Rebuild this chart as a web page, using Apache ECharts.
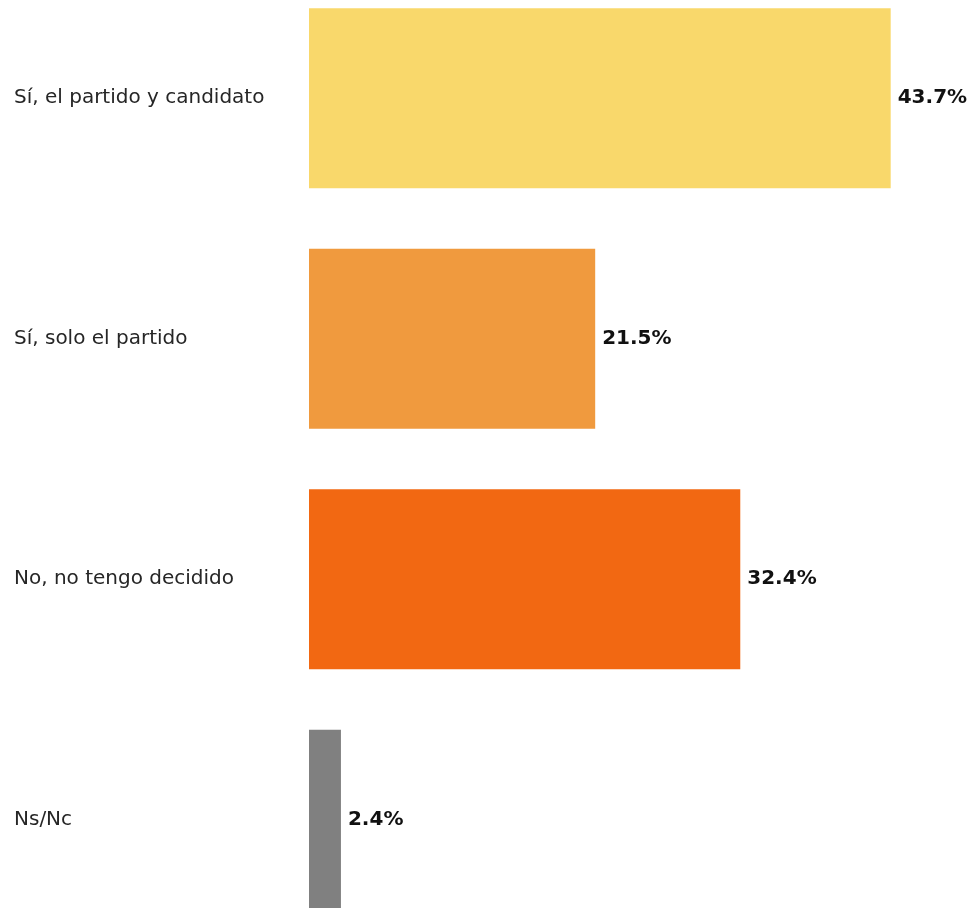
<!DOCTYPE html>
<html>
<head>
<meta charset="utf-8">
<script src="https://cdn.jsdelivr.net/npm/echarts@6/dist/echarts.min.js"></script>
<style>html,body{margin:0;padding:0;background:#fff;overflow:hidden;width:971px;height:908px;}#c{position:absolute;left:0;top:-22px;width:971px;height:962px;}</style>
</head>
<body>
<div id="c"></div>
<script>
var categories = ["Sí, el partido y candidato", "Sí, solo el partido", "No, no tengo decidido", "Ns/Nc"];
var values = [43.7, 21.5, 32.4, 2.4];
var colors = ["#F9D86B", "#F09A3E", "#F26812", "#808080"];

var chart = echarts.init(document.getElementById('c'), null, {renderer: 'canvas'});
chart.setOption({
  animation: false,
  backgroundColor: '#ffffff',
  grid: {left: 309, top: 0, width: 599, height: 962, containLabel: false},
  xAxis: {type: 'value', min: 0, max: 45, show: false},
  yAxis: {
    type: 'category', data: categories, inverse: true,
    axisLine: {show: false}, axisTick: {show: false},
    axisLabel: {align: 'left', margin: 295, fontSize: 20, color: '#262626', padding: [3, 0, 0, 0], fontFamily: '"DejaVu Sans", sans-serif'}
  },
  series: [{
    type: 'bar',
    data: values.map(function (v, i) { return {value: v, itemStyle: {color: colors[i]}}; }),
    barWidth: 180,
    label: {
      show: true, position: 'right', distance: 7,
      formatter: function (p) { return p.value.toFixed(1) + '%'; },
      fontSize: 20, fontWeight: 'bold', color: '#111111', fontFamily: '"DejaVu Sans", sans-serif'
    }
  }]
});
</script>
</body>
</html>
